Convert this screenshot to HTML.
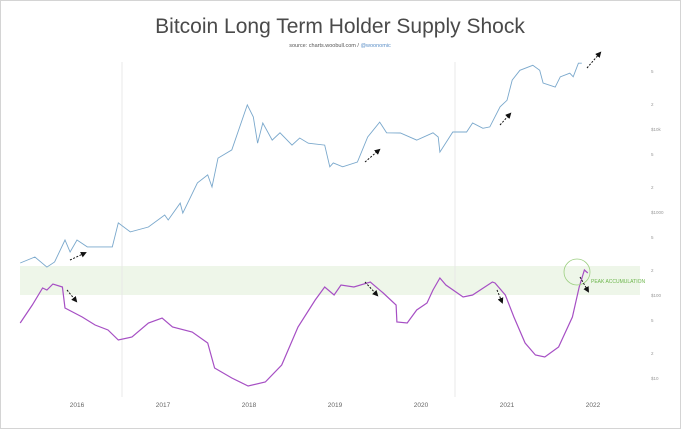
<!DOCTYPE html>
<html><head><meta charset="utf-8"><style>
body{margin:0;background:#fff;}
svg{display:block;font-family:"Liberation Sans",sans-serif;}
</style></head><body>
<svg width="681" height="429" viewBox="0 0 681 429">
<rect x="0.5" y="0.5" width="680" height="428" fill="#fff" stroke="#d4d4d4"/>
<text x="340" y="33" text-anchor="middle" font-size="21" fill="#4a4a4a">Bitcoin Long Term Holder Supply Shock</text>
<text x="340" y="47" text-anchor="middle" font-size="5.5" fill="#555">source: charts.woobull.com / <tspan fill="#5b8fc7">@woonomic</tspan></text>
<rect x="20" y="266" width="620" height="29" fill="#eef6e9"/>
<line x1="122" y1="62" x2="122" y2="397" stroke="#e8e8e8"/>
<line x1="455" y1="62" x2="455" y2="397" stroke="#e8e8e8"/>
<g id="xaxis"></g><g id="yaxis"></g>
<path id="priceLine" fill="none" stroke="#7aa8cc" stroke-width="0.9"/>
<path id="shockLine" fill="none" stroke="#a64fc4" stroke-width="1.2"/>
<circle cx="577" cy="272" r="13" fill="none" stroke="#9ccf80" stroke-width="0.8"/>
<text x="591" y="283" font-size="5" fill="#6bb54a">PEAK ACCUMULATION</text>
<defs><marker id="ah" markerWidth="6" markerHeight="6" refX="4" refY="3" orient="auto"><path d="M0,0 L6,3 L0,6 z" fill="#111"/></marker></defs>
<g stroke="#111" stroke-width="1" stroke-dasharray="2,1.5" marker-end="url(#ah)">
<line x1="70" y1="260" x2="85" y2="253"/>
<line x1="67" y1="290" x2="76" y2="301"/>
<line x1="365" y1="162" x2="379" y2="150"/>
<line x1="365" y1="282" x2="377" y2="295"/>
<line x1="497" y1="290" x2="502" y2="302"/>
<line x1="500" y1="125" x2="510" y2="114"/>
<line x1="587" y1="68" x2="600" y2="53"/>
<line x1="580" y1="277" x2="588" y2="291"/>
</g>
</svg>
<script>
const priceDates=[2015.34,2015.51,2015.65,2015.74,2015.86,2015.92,2016.0,2016.12,2016.41,2016.48,2016.62,2016.83,2017.02,2017.06,2017.20,2017.23,2017.40,2017.52,2017.57,2017.64,2017.80,2017.98,2018.05,2018.10,2018.16,2018.27,2018.36,2018.50,2018.59,2018.69,2018.88,2018.94,2018.98,2019.09,2019.26,2019.38,2019.52,2019.60,2019.76,2019.95,2020.14,2020.20,2020.22,2020.37,2020.53,2020.60,2020.72,2020.80,2020.92,2021.00,2021.06,2021.15,2021.30,2021.38,2021.42,2021.56,2021.62,2021.73,2021.77,2021.83,2021.87];
const priceValues=[243,287,217,250,460,330,460,380,380,740,575,660,920,800,1280,970,2240,2800,2000,4460,5600,19500,14000,6750,11800,7350,9000,6400,7800,6750,6400,3500,3900,3500,4000,8000,12100,9000,8950,7350,9000,8000,5270,9200,9200,11800,10200,10600,18500,22200,38800,51000,58600,51000,35800,32000,42500,47000,42500,62000,62000];
const shockDates=[2015.34,2015.48,2015.60,2015.65,2015.72,2015.83,2015.86,2016.06,2016.21,2016.36,2016.48,2016.64,2016.83,2016.99,2017.11,2017.34,2017.52,2017.60,2017.80,2017.99,2018.19,2018.38,2018.57,2018.77,2018.88,2018.99,2019.07,2019.22,2019.41,2019.56,2019.71,2019.72,2019.84,2019.95,2020.07,2020.14,2020.22,2020.29,2020.49,2020.60,2020.83,2020.86,2020.98,2021.08,2021.21,2021.33,2021.44,2021.60,2021.76,2021.84,2021.90,2021.94];
const shockValues=[0.67,0.85,1.02,1.00,1.06,1.03,0.82,0.73,0.65,0.60,0.50,0.53,0.67,0.72,0.63,0.58,0.47,0.22,0.12,0.04,0.08,0.25,0.63,0.90,1.03,0.95,1.05,1.03,1.08,0.97,0.85,0.68,0.67,0.80,0.87,1.00,1.12,1.05,0.93,0.95,1.08,1.07,0.95,0.73,0.47,0.35,0.33,0.43,0.73,1.03,1.20,1.17];
const yearTicks=[2016,2017,2018,2019,2020,2021,2022];
const priceTicks=[10,20,50,100,200,500,1000,2000,5000,10000,20000,50000];
const priceTickLabels=["$10","2","5","$100","2","5","$1000","2","5","$10k","2","5"];
const X=t=>77+(t-2016)*86;
const YP=p=>295-83*Math.log10(p/100);
const YS=v=>390-v*100;
const ns="http://www.w3.org/2000/svg";
document.getElementById('priceLine').setAttribute('d',priceDates.map((t,i)=>(i?'L':'M')+X(t).toFixed(1)+','+YP(priceValues[i]).toFixed(1)).join(''));
document.getElementById('shockLine').setAttribute('d',shockDates.map((t,i)=>(i?'L':'M')+X(t).toFixed(1)+','+YS(shockValues[i]).toFixed(1)).join(''));
const xa=document.getElementById('xaxis');
yearTicks.forEach(y=>{const t=document.createElementNS(ns,'text');
t.setAttribute('x',X(y));t.setAttribute('y',407);t.setAttribute('text-anchor','middle');t.setAttribute('font-size','6.5');t.setAttribute('fill','#666');t.textContent=y;


xa.appendChild(t);});
const ya=document.getElementById('yaxis');
priceTicks.forEach((p,i)=>{const t=document.createElementNS(ns,'text');
t.setAttribute('x',651);t.setAttribute('y',YP(p)+2);t.setAttribute('font-size','4.5');t.setAttribute('fill','#999');t.textContent=priceTickLabels[i];


ya.appendChild(t);});
</script>
</body></html>
